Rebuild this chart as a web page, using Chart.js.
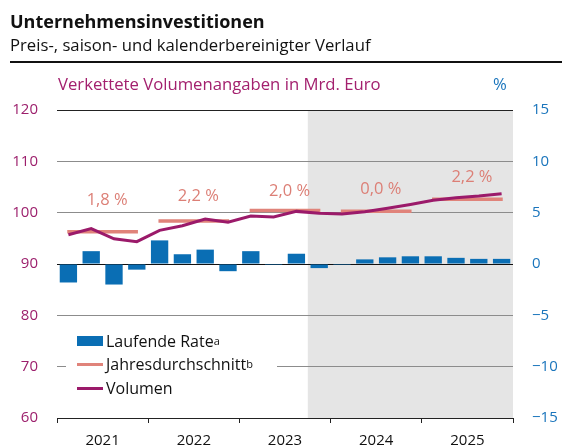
<!DOCTYPE html>
<html><head><meta charset="utf-8">
<script src="https://cdn.jsdelivr.net/npm/chart.js@4/dist/chart.umd.min.js"></script>
<style>
body{margin:0;background:#fff;}
#wrap{position:relative;width:565px;height:448px;overflow:hidden;font-family:"Open Sans","Noto Sans",sans-serif;}
canvas{position:absolute;left:0;top:0;}
.t{position:absolute;white-space:nowrap;line-height:1;}
#legend{position:absolute;left:66px;top:327px;width:211px;height:70px;background:#fff;}
.li{position:absolute;left:11px;height:20px;display:flex;align-items:center;font-size:16px;color:#111;white-space:nowrap;}
.sw{width:26px;margin-right:3px;}
sup{font-size:11px;vertical-align:6px;line-height:0;}
</style></head><body>
<div id="wrap">
<canvas id="c" width="565" height="448"></canvas>
<div class="t" style="left:10px;top:12px;font-size:18px;font-weight:700;color:#111">Unternehmensinvestitionen</div>
<div class="t" style="left:10px;top:37px;font-size:16.7px;color:#111">Preis-, saison- und kalenderbereinigter Verlauf</div>
<div style="position:absolute;left:10px;top:61px;width:552px;height:2px;background:#111"></div>
<div class="t" style="left:58px;top:76px;font-size:16.7px;color:#a3206e">Verkettete Volumenangaben in Mrd. Euro</div>
<div class="t" style="left:493px;top:76px;font-size:16.7px;color:#1a75bc">%</div>
<div id="legend">
  <div class="li" style="top:4px"><span class="sw" style="height:10px;background:#0a6eb4"></span>Laufende Rate<sup>a</sup></div>
  <div class="li" style="top:27px"><span class="sw" style="height:3px;background:#e0837a"></span>Jahresdurchschnitt<sup>b</sup></div>
  <div class="li" style="top:51px"><span class="sw" style="height:3px;background:#9b1a6a"></span>Volumen</div>
</div>
</div>
<script>
// ---- data ----
const quarters = ['2021Q1','2021Q2','2021Q3','2021Q4','2022Q1','2022Q2','2022Q3','2022Q4',
  '2023Q1','2023Q2','2023Q3','2023Q4','2024Q1','2024Q2','2024Q3','2024Q4',
  '2025Q1','2025Q2','2025Q3','2025Q4'];
const years = ['2021','2022','2023','2024','2025'];
const rate = [-1.8, 1.25, -2.0, -0.55, 2.3, 0.95, 1.4, -0.7, 1.25, -0.1, 1.0, -0.4,
  -0.1, 0.45, 0.65, 0.75, 0.75, 0.6, 0.5, 0.5];
const volume = [95.7, 96.9, 94.9, 94.35, 96.55, 97.45, 98.75, 98.15, 99.35, 99.15, 100.25, 99.9,
  99.75, 100.2, 100.85, 101.6, 102.4, 102.9, 103.25, 103.7];
const annualAvg = [96.3, 98.4, 100.4, 100.3, 102.6];
const avgLabels = ['1,8 %', '2,2 %', '2,0 %', '0,0 %', '2,2 %'];
const avgLabelLevel = [102.5, 103.25, 104.2, 104.5, 106.85];
const forecastStart = 11; // first forecast quarter index (2023Q4)
const leftTicks = [60, 120, 10];
const rightTicks = [-15, 15, 5];

// ---- derived ----
const barPts = rate.map((v, i) => ({x: i + 0.5, y: v}));
const volPts = volume.map((v, i) => ({x: i + 0.5, y: v}));
const avgPts = [];
annualAvg.forEach((v, k) => {
  avgPts.push({x: 4 * k + 0.45, y: v}, {x: 4 * k + 3.55, y: v}, {x: 4 * k + 4, y: null});
});

const shadePlugin = {
  id: 'shade',
  beforeDraw(chart) {
    const {ctx, chartArea: a, scales: {x}} = chart;
    const x0 = x.getPixelForValue(forecastStart);
    ctx.save();
    ctx.fillStyle = '#e5e5e5';
    ctx.fillRect(x0, a.top, a.right - x0, a.bottom - a.top);
    ctx.restore();
  }
};
const labelPlugin = {
  id: 'avgLabels',
  afterDatasetsDraw(chart) {
    const {ctx, scales: {x, yL}} = chart;
    ctx.save();
    ctx.font = '16.5px "Open Sans", sans-serif';
    ctx.fillStyle = '#dc7f76';
    ctx.textAlign = 'center';
    ctx.textBaseline = 'middle';
    avgLabels.forEach((t, k) => {
      ctx.fillText(t, x.getPixelForValue(4 * k + 2.2), yL.getPixelForValue(avgLabelLevel[k]));
    });
    ctx.restore();
  }
};

const tickFont = {family: '"Open Sans", sans-serif', size: 15};
new Chart(document.getElementById('c'), {
  data: {
    datasets: [
      {type: 'line', label: 'Volumen', data: volPts, yAxisID: 'yL', borderColor: '#9b1a6a',
        borderWidth: 3, pointRadius: 0, tension: 0, order: 1},
      {type: 'line', label: 'Jahresdurchschnitt', data: avgPts, yAxisID: 'yL', borderColor: '#e0837a',
        borderWidth: 3.5, pointRadius: 0, spanGaps: false, order: 2},
      {type: 'bar', label: 'Laufende Rate', data: barPts, yAxisID: 'yR', backgroundColor: '#0a6eb4',
        barPercentage: 0.76, categoryPercentage: 1.0, order: 3}
    ]
  },
  options: {
    responsive: false, animation: false, devicePixelRatio: 1,
    layout: {padding: {top: 110, left: 0, right: 0, bottom: 0}},
    plugins: {legend: {display: false}, tooltip: {enabled: false}},
    scales: {
      x: {
        type: 'linear', min: 0, max: 20, offset: false,
        afterFit: s => { s.height = 30; },
        afterBuildTicks: s => { s.ticks = Array.from({length: 11}, (_, i) => ({value: i * 2})); },
        ticks: {autoSkip: false, maxRotation: 0, padding: 9, font: tickFont, color: '#111',
          callback: v => (v % 4 === 2 ? years[(v - 2) / 4] : '')},
        grid: {drawOnChartArea: false, drawTicks: true, tickLength: 5, offset: false,
          tickColor: c => (c.tick && c.tick.value % 4 === 0 ? '#222' : 'rgba(0,0,0,0)')},
        border: {display: true, color: '#222', width: 1}
      },
      yL: {
        type: 'linear', position: 'left', min: leftTicks[0], max: leftTicks[1],
        afterFit: s => { s.width = 57; },
        ticks: {stepSize: leftTicks[2], padding: 19, font: tickFont, color: '#9c1f6c'},
        grid: {drawTicks: false,
          color: c => (c.tick.value === 120 || c.tick.value === 60 ? '#222' : '#8c8c8c')},
        border: {display: false}
      },
      yR: {
        type: 'linear', position: 'right', min: rightTicks[0], max: rightTicks[1],
        afterFit: s => { s.width = 52; },
        ticks: {stepSize: rightTicks[2], padding: 19, font: tickFont, color: '#1a75bc',
          callback: v => (v < 0 ? '\u2212' + Math.abs(v) : String(v))},
        grid: {drawTicks: false, color: c => (c.tick.value === 0 ? '#111' : 'rgba(0,0,0,0)')},
        border: {display: false}
      }
    }
  },
  plugins: [shadePlugin, labelPlugin]
});
</script>
</body></html>
